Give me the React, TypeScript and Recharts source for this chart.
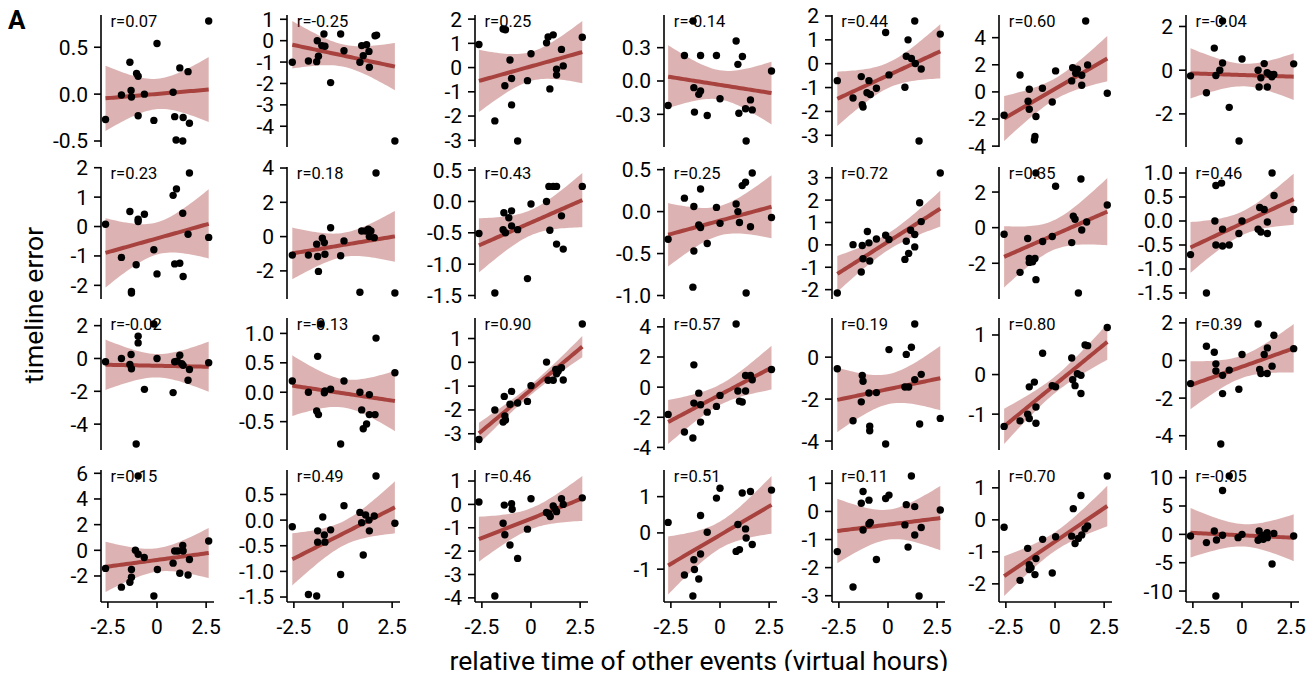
import React from 'react';
import { ComposedChart, Scatter, Area, Line, XAxis, YAxis } from 'recharts';

// points per panel: [relative time, timeline error], panel pRC = row R, column C
const p11 = [[-2.62,-0.27],[-1.81,-0.01],[-1.38,0.34],[-1.32,0.04],[-1.3,-0.03],[-1.04,0.22],[-0.96,0.19],[-0.96,-0.23],[-0.64,0.0],[-0.16,-0.28],[0.0,0.54],[0.82,0.02],[0.9,-0.24],[1.16,0.28],[0.97,-0.49],[1.33,-0.25],[1.31,-0.5],[1.58,0.24],[1.65,-0.31],[2.63,0.78]];
const p12 = [[-2.58,-1.01],[-1.76,-0.95],[-1.34,-0.98],[-1.31,0.0],[-1.25,-0.73],[-1.08,-0.23],[-0.97,0.31],[-0.92,-0.26],[-0.63,-1.96],[-0.12,0.31],[0.05,-0.47],[0.86,-1.01],[0.95,-0.23],[1.03,-0.7],[1.2,-0.19],[1.32,-0.5],[1.34,-1.24],[1.63,0.23],[1.71,0.26],[2.64,-4.69]];
const p13 = [[-2.65,0.95],[-1.84,-2.2],[-1.42,1.59],[-1.3,1.56],[-1.33,-0.75],[-1.07,0.31],[-0.99,-0.45],[-0.99,-1.54],[-0.68,-3.03],[-0.18,-0.54],[0.0,0.57],[0.79,1.02],[0.87,1.26],[0.96,-0.88],[1.13,1.35],[1.3,-0.07],[1.3,-0.31],[1.55,0.75],[1.64,0.07],[2.61,1.25]];
const p14 = [[-2.64,-0.22],[-1.81,0.23],[-1.37,0.54],[-1.33,-0.06],[-1.3,-0.28],[-1.08,-0.12],[-0.99,0.23],[-0.99,-0.09],[-0.65,-0.31],[-0.18,0.23],[0.0,-0.16],[0.82,0.36],[0.91,0.15],[0.96,-0.29],[1.14,0.22],[1.3,-0.25],[1.33,-0.54],[1.55,-0.17],[1.64,-0.26],[2.62,0.09]];
const p15 = [[-2.58,-0.71],[-1.78,-1.44],[-1.36,-0.54],[-1.31,-1.72],[-1.27,-1.82],[-1.07,-1.22],[-0.97,-0.71],[-0.9,-1.29],[-0.59,-1.03],[-0.12,1.31],[0.05,-0.47],[0.86,-0.99],[0.93,0.31],[1.19,0.22],[1.39,0.01],[1.69,-0.22],[1.58,-3.24],[1.36,1.79],[1.02,1.0],[2.66,1.24]];
const p16 = [[-2.59,-1.72],[-1.78,1.25],[-1.37,-0.69],[-1.31,0.2],[-1.31,-1.28],[-1.02,-3.29],[-1.05,-3.54],[-0.97,-1.82],[-0.64,0.27],[-0.14,-0.74],[0.03,1.55],[0.85,0.81],[0.9,1.79],[1.05,1.38],[1.14,1.67],[1.36,1.23],[1.36,0.49],[1.56,5.23],[1.66,1.99],[2.66,-0.1]];
const p17 = [[-2.62,-0.26],[-1.81,-1.03],[-1.41,1.01],[-1.33,-0.24],[-1.13,0.0],[-0.99,0.33],[-0.99,2.25],[-0.65,-1.7],[-0.15,-3.24],[0.0,0.51],[0.82,0.0],[0.87,-0.77],[0.96,-0.35],[1.13,0.3],[1.28,-0.12],[1.29,-0.77],[1.41,-0.2],[1.52,-0.3],[1.62,-0.2],[2.63,0.29]];

const p21 = [[-2.62,0.08],[-1.81,-1.05],[-1.38,0.51],[-1.3,-2.21],[-1.3,-2.26],[-1.06,-1.3],[-0.96,0.25],[-0.96,0.17],[-0.64,0.42],[-0.16,-0.79],[0.0,-1.61],[0.82,1.06],[0.9,-1.27],[0.99,1.28],[1.16,-1.25],[1.31,0.45],[1.33,-1.7],[1.58,-0.26],[1.65,1.82],[2.63,-0.37]];
const p22 = [[-2.58,-1.08],[-1.76,-1.08],[-1.34,-0.44],[-1.29,-1.16],[-1.25,-2.03],[-1.05,-0.1],[-0.95,-0.35],[-0.92,-1.03],[-0.63,0.52],[-0.12,-1.12],[0.05,-0.25],[0.86,-3.25],[0.95,0.33],[1.15,0.33],[1.29,0.43],[1.34,0.0],[1.42,0.33],[1.59,-0.06],[1.68,3.71],[2.64,-3.29]];
const p23 = [[-2.65,-0.51],[-1.84,-1.46],[-1.38,-0.18],[-1.42,-0.45],[-1.3,-0.5],[-1.13,-0.26],[-0.99,-0.15],[-0.99,-0.39],[-0.68,-0.45],[-0.18,-1.23],[0.0,-0.04],[0.79,0.0],[0.91,0.24],[0.96,-0.46],[1.13,0.24],[1.3,0.24],[1.3,-0.68],[1.55,-0.23],[1.64,-0.76],[2.61,0.24]];
const p24 = [[-2.64,-0.33],[-1.81,0.16],[-1.33,0.06],[-1.33,-0.47],[-1.38,-0.9],[-1.08,-0.16],[-0.99,0.27],[-0.99,-0.19],[-0.65,-0.38],[-0.18,0.05],[0.0,-0.14],[0.82,0.09],[0.91,0.0],[0.99,-0.13],[1.13,0.31],[1.3,0.35],[1.33,-0.97],[1.55,-0.18],[1.64,0.46],[2.62,-0.07]];
const p25 = [[-2.58,-2.15],[-1.78,0.01],[-1.36,-1.21],[-1.31,-0.03],[-1.27,-0.62],[-1.05,0.6],[-0.97,0.09],[-0.93,-0.72],[-0.59,0.26],[-0.12,0.43],[0.05,0.24],[0.86,-0.65],[0.93,0.16],[1.05,-0.38],[1.15,0.65],[1.36,0.46],[1.36,-0.09],[1.61,1.88],[1.69,1.04],[2.66,3.21]];
const p26 = [[-2.59,-0.37],[-1.78,-2.51],[-1.39,-0.61],[-1.31,-1.73],[-1.31,-1.95],[-1.14,-1.92],[-1.02,-1.73],[-0.97,3.07],[-0.97,-2.92],[-0.63,-0.78],[-0.14,-0.5],[0.03,2.33],[0.85,-0.84],[0.93,0.65],[1.02,0.47],[1.19,-3.67],[1.32,2.73],[1.36,-0.13],[1.61,0.32],[2.66,1.27]];
const p27 = [[-2.62,-0.7],[-1.81,-1.5],[-1.38,0.0],[-1.33,0.74],[-1.04,0.79],[-1.33,-0.5],[-0.99,-0.17],[-0.99,-0.52],[-0.65,-0.5],[-0.16,-0.26],[0.0,0.0],[0.82,-0.17],[0.9,0.28],[0.96,-0.23],[1.13,0.24],[1.29,-0.02],[1.29,-0.26],[1.53,1.0],[1.63,0.53],[2.63,0.24]];

const p31 = [[-2.62,-0.2],[-1.81,0.0],[-1.38,-0.36],[-1.32,0.24],[-1.3,-0.63],[-1.06,-5.21],[-0.96,1.35],[-0.96,0.95],[-0.64,-1.88],[-0.16,2.1],[0.0,0.0],[0.82,-2.08],[0.9,-0.2],[1.03,-0.16],[1.16,0.2],[1.26,-0.32],[1.33,-0.42],[1.58,-1.33],[1.65,-0.67],[2.63,-0.26]];
const p32 = [[-2.58,0.19],[-1.76,0.0],[-1.34,-0.32],[-1.29,0.61],[-1.25,-0.38],[-1.12,1.16],[-0.95,-0.01],[-0.92,0.02],[-0.63,0.05],[-0.12,-0.88],[0.05,0.19],[0.86,0.0],[0.95,-0.3],[1.03,-0.62],[1.2,-0.54],[1.34,-0.04],[1.34,-0.38],[1.63,-0.38],[1.68,0.92],[2.64,0.33]];
const p33 = [[-2.65,-3.24],[-1.84,-2.0],[-1.42,-2.51],[-1.33,-2.25],[-1.3,-2.42],[-1.36,-1.43],[-1.07,-1.76],[-0.99,-1.22],[-0.68,-1.71],[-0.18,-1.64],[0.0,-0.98],[0.79,0.01],[0.87,-0.75],[1.13,-0.75],[1.26,-0.3],[1.3,-0.48],[1.38,-0.37],[1.55,-0.23],[1.64,-0.74],[2.61,1.61]];
const p34 = [[-2.64,-1.81],[-1.81,-2.98],[-1.38,-3.38],[-1.33,1.48],[-1.33,-1.06],[-1.08,-0.4],[-0.99,-1.17],[-0.99,-2.32],[-0.65,-1.66],[-0.18,-1.28],[0.0,-0.55],[0.82,4.19],[0.91,-0.26],[0.99,-0.93],[1.13,-0.99],[1.3,-0.26],[1.3,0.77],[1.55,0.77],[1.64,0.49],[2.62,1.17]];
const p35 = [[-2.58,-0.55],[-1.78,-3.03],[-1.36,-2.13],[-1.31,-0.87],[-1.27,-1.15],[-0.97,-1.71],[-0.93,-3.29],[-0.93,-3.51],[-0.59,-1.69],[-0.12,-4.14],[0.05,0.36],[0.86,-1.42],[0.93,0.13],[1.05,-1.42],[1.19,0.47],[1.36,1.58],[1.36,-1.07],[1.61,-3.19],[1.69,-0.82],[2.66,-2.92]];
const p36 = [[-2.59,-1.31],[-1.78,-1.17],[-1.39,-1.0],[-1.31,-0.31],[-1.31,-1.11],[-1.05,-0.19],[-0.97,-0.82],[-0.97,-1.23],[-0.63,0.54],[-0.14,-0.28],[0.03,-0.31],[0.85,0.42],[0.9,-0.13],[1.02,-0.28],[1.14,0.02],[1.32,-0.02],[1.32,-0.48],[1.53,0.75],[1.66,0.73],[2.66,1.19]];
const p37 = [[-2.62,-1.23],[-1.81,0.76],[-1.41,0.44],[-1.33,-0.18],[-1.33,-0.56],[-0.99,-0.79],[-0.99,-1.76],[-1.08,-4.44],[-0.65,-0.51],[-0.16,-1.53],[0.0,0.32],[0.82,1.94],[0.9,-0.48],[0.96,-0.69],[1.13,0.32],[1.28,-0.69],[1.29,0.67],[1.53,-0.3],[1.62,1.34],[2.63,0.63]];

const p41 = [[-2.62,-1.41],[-1.81,-2.87],[-1.38,-2.49],[-1.3,-2.1],[-1.3,-1.49],[-1.1,0.0],[-0.96,-0.31],[-0.96,5.79],[-0.65,-0.56],[-0.16,-3.56],[0.02,-1.49],[0.82,-1.0],[0.9,-0.05],[1.06,-0.05],[1.16,-1.79],[1.31,0.38],[1.33,-0.05],[1.58,-1.92],[1.65,-0.72],[2.63,0.72]];
const p42 = [[-2.58,-0.13],[-1.76,-1.45],[-1.34,-1.48],[-1.29,-0.21],[-1.29,-0.43],[-1.03,0.06],[-0.95,-0.29],[-0.92,-0.43],[-0.63,-0.19],[-0.12,-1.06],[0.05,0.28],[0.86,0.15],[0.95,-0.05],[1.03,-0.68],[1.15,0.1],[1.32,0.0],[1.34,-0.21],[1.59,0.08],[1.68,0.86],[2.64,-0.06]];
const p43 = [[-2.65,0.1],[-1.84,-3.92],[-1.42,-0.81],[-1.33,-1.3],[-1.36,-0.03],[-1.07,-1.74],[-0.99,0.03],[-0.96,-0.21],[-0.68,-2.31],[-0.18,-1.06],[0.0,0.24],[0.79,-0.35],[0.91,-0.4],[0.98,-0.52],[1.13,-0.07],[1.21,-0.18],[1.3,-0.31],[1.55,0.24],[1.64,0.0],[2.61,0.28]];
const p44 = [[-2.64,0.29],[-1.81,-1.16],[-1.38,-1.74],[-1.33,-0.74],[-1.3,-1.01],[-1.08,-1.27],[-0.99,0.48],[-0.99,-0.58],[-0.65,0.02],[-0.18,0.96],[0.0,1.23],[0.82,-0.51],[0.91,0.23],[0.99,-0.46],[1.13,1.1],[1.3,0.11],[1.33,-0.14],[1.55,1.14],[1.64,-0.32],[2.62,1.18]];
const p45 = [[-2.58,-1.43],[-1.78,-2.69],[-1.36,0.29],[-1.27,0.71],[-1.27,-0.66],[-0.97,0.4],[-0.97,-0.45],[-0.9,-0.39],[-0.59,-1.71],[-0.12,0.46],[0.05,0.58],[0.86,-0.48],[0.93,0.24],[1.02,-1.27],[1.19,1.26],[1.36,0.17],[1.36,-0.84],[1.58,-3.01],[1.69,-0.57],[2.66,0.05]];
const p46 = [[-2.59,-0.23],[-1.78,-1.89],[-1.39,-0.89],[-1.31,-1.4],[-1.31,-1.55],[-1.22,-1.5],[-1.02,-1.71],[-0.97,-1.21],[-0.63,-0.61],[-0.14,-1.66],[0.03,-0.53],[0.85,-0.51],[0.93,0.35],[1.02,-0.74],[1.19,-0.58],[1.32,0.76],[1.36,-0.47],[1.53,-0.28],[1.66,-0.19],[2.66,1.37]];
const p47 = [[-2.62,-0.29],[-1.81,-1.45],[-1.41,0.58],[-1.33,-10.87],[-1.3,-0.99],[-0.99,7.73],[-0.99,-0.17],[-0.65,10.29],[-0.2,-0.58],[0.0,0.0],[0.82,-1.05],[0.87,0.58],[0.96,-0.58],[1.08,-0.87],[1.13,-0.17],[1.28,0.29],[1.29,-0.58],[1.53,-5.23],[1.62,0.17],[2.63,-0.29]];

// y tick values per panel
const t1 = [[0.5, 0, -0.5], [1, 0, -1, -2, -3, -4], [2, 1, 0, -1, -2, -3], [0.3, 0, -0.3], [2, 1, 0, -1, -2, -3], [4, 2, 0, -2, -4], [2, 0, -2]];
const t2 = [[2, 1, 0, -1, -2], [4, 2, 0, -2], [0.5, 0, -0.5, -1, -1.5], [0.5, 0, -0.5, -1], [3, 2, 1, 0, -1, -2], [2, 0, -2], [1, 0.5, 0, -0.5, -1, -1.5]];
const t3 = [[2, 0, -2, -4], [1, 0.5, 0, -0.5], [1, 0, -1, -2, -3], [4, 2, 0, -2, -4], [0, -2, -4], [1, 0, -1], [2, 0, -2, -4]];
const t4 = [[6, 4, 2, 0, -2], [0.5, 0, -0.5, -1, -1.5], [1, 0, -1, -2, -3, -4], [1, 0, -1], [1, 0, -1, -2, -3], [1, 0, -1, -2], [10, 5, 0, -5, -10]];

// correlation labels
const r1 = ['0.07', '-0.25', '0.25', '-0.14', '0.44', '0.60', '-0.04'];
const r2 = ['0.23', '0.18', '0.43', '0.25', '0.72', '0.35', '0.46'];
const r3 = ['-0.02', '-0.13', '0.90', '0.57', '0.19', '0.80', '0.39'];
const r4 = ['0.15', '0.49', '0.46', '0.51', '0.11', '0.70', '-0.05'];

const X_TICKS = [-2.5, 0, 2.5];

const ROWS = [
  { pts: [p11, p12, p13, p14, p15, p16, p17], ticks: t1, r: r1 },
  { pts: [p21, p22, p23, p24, p25, p26, p27], ticks: t2, r: r2 },
  { pts: [p31, p32, p33, p34, p35, p36, p37], ticks: t3, r: r3 },
  { pts: [p41, p42, p43, p44, p45, p46, p47], ticks: t4, r: r4 },
];

// layout (page px)
const COL_X = [101, 287.3, 475, 664.3, 831.7, 999.3, 1186];
const ROW_Y = [15, 166.7, 318.3, 470];
const PLOT_W = 113;
const PLOT_H = 132;
const YW = 70;
const MT = 16;
const MR = 10;
const MB = 16;
const XH = 44;
const X_DOMAIN: [number, number] = [-2.85, 2.9];
const RED = '#a8423f';
const FONT = 'Roboto, sans-serif';
const TICK_FS = 21;

// OLS fit with 95% confidence band, like regplot
function regression(pts: number[][]) {
  const n = pts.length;
  const mx = pts.reduce((s, p) => s + p[0], 0) / n;
  const my = pts.reduce((s, p) => s + p[1], 0) / n;
  let sxx = 0;
  let sxy = 0;
  for (const [x, y] of pts) {
    sxx += (x - mx) ** 2;
    sxy += (x - mx) * (y - my);
  }
  const b = sxy / sxx;
  const a = my - b * mx;
  let sse = 0;
  for (const [x, y] of pts) sse += (y - a - b * x) ** 2;
  const s = Math.sqrt(sse / (n - 2));
  const t = 2.101;
  const xs = pts.map((p) => p[0]);
  const lo = Math.min(...xs);
  const hi = Math.max(...xs);
  const steps = 40;
  const band = [];
  for (let i = 0; i <= steps; i++) {
    const x = lo + ((hi - lo) * i) / steps;
    const yh = a + b * x;
    const e = t * s * Math.sqrt(1 / n + (x - mx) ** 2 / sxx);
    band.push({ x, fit: yh, ci: [yh - e, yh + e] });
  }
  return band;
}

const Dot = (props: any) => <circle cx={props.cx} cy={props.cy} r={3.7} fill="#000" />;

function Panel({ pts, ticks, r, row, col }: { pts: number[][]; ticks: number[]; r: string; row: number; col: number }) {
  const band = regression(pts);
  const scatter = pts.map(([x, y]) => ({ x, y }));
  const lo = Math.min(...pts.map((p) => p[1]), ...band.map((b) => b.ci[0]));
  const hi = Math.max(...pts.map((p) => p[1]), ...band.map((b) => b.ci[1]));
  const pad = (hi - lo) * 0.05;
  const domain: [number, number] = [lo - pad, hi + pad];
  const last = row === 3;
  const dec = ticks.some((v) => !Number.isInteger(v)) ? 1 : 0;
  const w = YW + PLOT_W + MR;
  const h = MT + PLOT_H + (last ? XH : MB);
  const left = COL_X[col] - 8 - YW;
  const top = ROW_Y[row] - 8 - MT;

  return (
    <>
      <div
        style={{
          position: 'absolute',
          left: COL_X[col] - 8 + 9.5,
          top: ROW_Y[row] - 8 - 3,
          fontSize: 16.5,
          fontFamily: FONT,
          color: '#000',
          whiteSpace: 'nowrap',
        }}
      >
        r={r}
      </div>
      <div style={{ position: 'absolute', left, top }}>
        <ComposedChart width={w} height={h} margin={{ top: MT, right: MR, bottom: last ? 0 : MB, left: 0 }}>
          <XAxis
            type="number"
            dataKey="x"
            domain={X_DOMAIN}
            ticks={X_TICKS}
            allowDataOverflow
            hide={!last}
            height={XH}
            interval={0}
            tickFormatter={(v: number) => String(v)}
            tick={{ fill: '#000', fontSize: TICK_FS, fontFamily: FONT }}
            axisLine={{ stroke: '#000', strokeWidth: 1.6 }}
            tickLine={{ stroke: '#000', strokeWidth: 1.6 }}
            tickSize={6}
            tickMargin={11}
          />
          <YAxis
            type="number"
            domain={domain}
            ticks={ticks}
            width={YW}
            interval={0}
            tickFormatter={(v: number) => v.toFixed(dec)}
            tick={{ fill: '#000', fontSize: TICK_FS, fontFamily: FONT }}
            axisLine={{ stroke: '#000', strokeWidth: 1.6 }}
            tickLine={{ stroke: '#000', strokeWidth: 1.6 }}
            tickSize={7}
            tickMargin={6}
          />
          <Area
            data={band}
            dataKey="ci"
            type="linear"
            stroke="none"
            fill={RED}
            fillOpacity={0.4}
            isAnimationActive={false}
          />
          <Line
            data={band}
            dataKey="fit"
            type="linear"
            stroke={RED}
            strokeWidth={4}
            dot={false}
            activeDot={false}
            isAnimationActive={false}
          />
          <Scatter data={scatter} dataKey="y" shape={Dot} isAnimationActive={false} />
        </ComposedChart>
      </div>
    </>
  );
}

export default function App() {
  return (
    <div style={{ position: 'relative', width: 1298, height: 663, fontFamily: FONT, background: '#fff' }}>
      <div style={{ position: 'absolute', left: 0, top: -3, fontSize: 26, fontWeight: 700, fontFamily: FONT }}>A</div>
      {ROWS.map((rw, ri) =>
        rw.pts.map((pts, ci) => (
          <Panel key={`${ri}-${ci}`} pts={pts} ticks={rw.ticks[ci]} r={rw.r[ci]} row={ri} col={ci} />
        ))
      )}
      <div
        style={{
          position: 'absolute',
          left: 25,
          top: 297,
          transform: 'translate(-50%, -50%) rotate(-90deg)',
          fontSize: 26.5,
          whiteSpace: 'nowrap',
          color: '#000',
        }}
      >
        timeline error
      </div>
      <div
        style={{
          position: 'absolute',
          left: 691,
          top: 652,
          transform: 'translate(-50%, -50%)',
          fontSize: 26.5,
          whiteSpace: 'nowrap',
          color: '#000',
        }}
      >
        relative time of other events (virtual hours)
      </div>
    </div>
  );
}
